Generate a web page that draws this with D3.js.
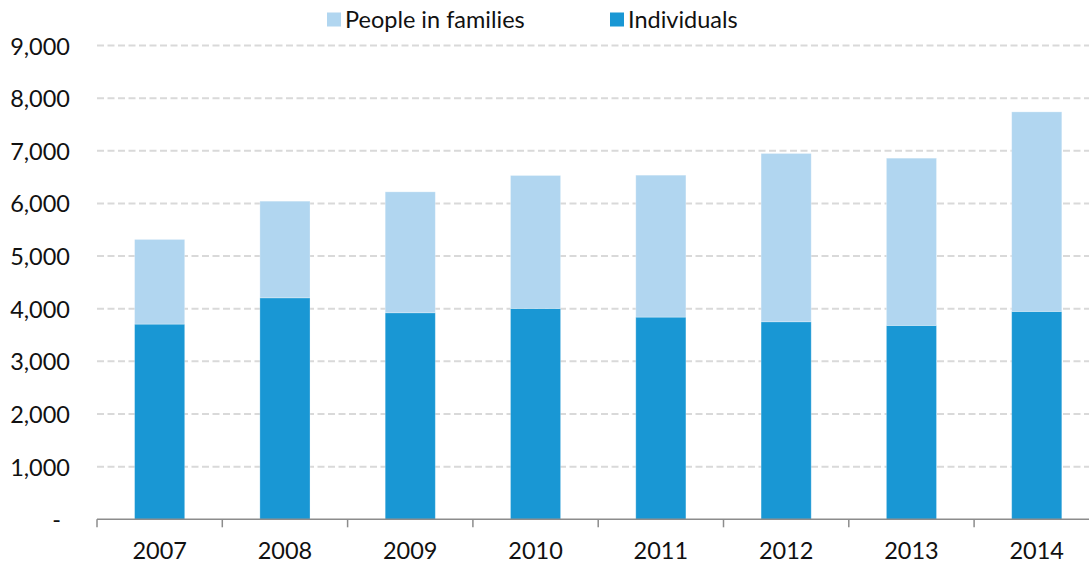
<!DOCTYPE html>
<html>
<head>
<meta charset="utf-8">
<script src="https://cdn.jsdelivr.net/npm/d3@7"></script>
<style>
  html, body { margin: 0; padding: 0; background: #fff; }
  svg { display: block; font-family: Lato, "Open Sans", sans-serif; }
</style>
</head>
<body>
<svg id="chart" width="1089" height="563"></svg>
<script>
const years = ["2007", "2008", "2009", "2010", "2011", "2012", "2013", "2014"];
const individuals = [3708, 4207, 3923, 4006, 3841, 3752, 3683, 3949];
const peopleInFamilies = [1608, 1836, 2297, 2525, 2696, 3197, 3177, 3790];
const yTicks = [0, 1000, 2000, 3000, 4000, 5000, 6000, 7000, 8000, 9000];
const seriesNames = ["Individuals", "People in families"];
const seriesColors = ["#1997D4", "#B1D6F0"];

const svg = d3.select("#chart");
const W = 1089, H = 563;

const x = d3.scaleBand().domain(years).range([97, 1099.4]).paddingInner(0.6).paddingOuter(0.3);
const y = d3.scaleLinear().domain([0, 9000]).range([519.3, 45.5]);

// gridlines
svg.append("g").selectAll("line").data(yTicks.filter(d => d > 0)).join("line")
  .attr("x1", 97).attr("x2", W)
  .attr("y1", d => y(d)).attr("y2", d => y(d))
  .attr("stroke", "#D9D9D9").attr("stroke-width", 2)
  .attr("stroke-dasharray", "7,3.5");

// stacked data
const rows = years.map((yr, i) => ({ year: yr, "Individuals": individuals[i], "People in families": peopleInFamilies[i] }));
const stack = d3.stack().keys(seriesNames)(rows);

svg.append("g").selectAll("g").data(stack).join("g")
  .attr("fill", (d, i) => seriesColors[i])
  .selectAll("rect").data(d => d).join("rect")
  .attr("x", d => x(d.data.year))
  .attr("width", x.bandwidth())
  .attr("y", d => y(d[1]))
  .attr("height", d => y(d[0]) - y(d[1]))
  .attr("stroke", "rgba(255,255,255,0.35)")
  .attr("stroke-width", 0.8);

// x axis
const xAxisG = svg.append("g").attr("transform", `translate(0,${y(0)})`);
xAxisG.append("line").attr("x1", 97).attr("x2", W).attr("y1", 0).attr("y2", 0)
  .attr("stroke", "#8C8C8C").attr("stroke-width", 1.5);
const tickPos = years.map(yr => x(yr) - (x.step() - x.bandwidth()) / 2);
xAxisG.selectAll("line.tk").data(tickPos).join("line").attr("class", "tk")
  .attr("x1", d => d).attr("x2", d => d).attr("y1", 0).attr("y2", 8)
  .attr("stroke", "#8C8C8C").attr("stroke-width", 1.5);
xAxisG.selectAll("text").data(years).join("text")
  .attr("x", d => x(d) + x.bandwidth() / 2)
  .attr("y", 39.5)
  .attr("text-anchor", "middle")
  .attr("font-size", 23.5)
  .attr("fill", "#111")
  .text(d => d);

// y axis labels
const fmt = d3.format(",");
svg.append("g").selectAll("text").data(yTicks).join("text")
  .attr("x", d => d === 0 ? 61 : 70)
  .attr("y", d => y(d) + 9)
  .attr("text-anchor", "end")
  .attr("font-size", 23.5)
  .attr("fill", "#111")
  .text(d => d === 0 ? "-" : fmt(d));

// legend
const legendItems = [
  { name: "People in families", color: seriesColors[1], x: 327 },
  { name: "Individuals", color: seriesColors[0], x: 610 }
];
const lg = svg.append("g");
legendItems.forEach(it => {
  lg.append("rect").attr("x", it.x).attr("y", 12.5).attr("width", 14).attr("height", 14).attr("fill", it.color);
  lg.append("text").attr("x", it.x + 18).attr("y", 27.5).attr("font-size", 23.5).attr("fill", "#111").text(it.name);
});
</script>
</body>
</html>
